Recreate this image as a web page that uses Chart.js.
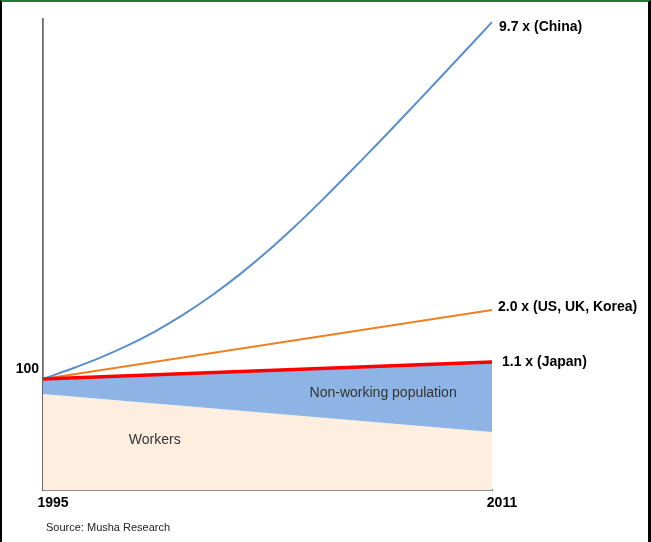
<!DOCTYPE html>
<html lang="en">
<head>
  <meta charset="UTF-8" />
  <title>Growth vs 1995</title>
  <style>
    body { margin: 0; background: #fff; font-family: "Liberation Sans", Arial, sans-serif; }
    #wrap {
      position: relative; width: 651px; height: 542px; box-sizing: border-box;
      border-top: 2px solid #1f7a3c; border-left: 2px solid #000; border-right: 3px solid #000;
    }
    #chart { display: block; }
    .source { position: absolute; left: 44px; top: 519px; font-size: 11px; color: #222; }
  </style>
</head>
<body>
  <div id="wrap">
    <canvas id="chart" width="646" height="540"></canvas>
    <div class="source">Source: Musha Research</div>
  </div>

  <script src="https://cdn.jsdelivr.net/npm/chart.js"></script>
  <script>
    // index, 1995 = 100 (schematic)
    const years = [1995, 1996, 1997, 1998, 1999, 2000, 2001, 2002, 2003, 2004, 2005, 2006, 2007, 2008, 2009, 2010, 2011];
    const china = [100, 109, 118.8, 130, 143, 158, 175, 194, 215, 238, 262.5, 288, 314, 340.5, 367.3, 394.3, 421.5];
    const endYears = [1995, 2011];
    const usUkKorea = [100, 162.2];
    const japan = [100, 115.3];
    const workers = [86.5, 52.3];
    const endLabels = ['9.7 x (China)', '2.0 x (US, UK, Korea)', '1.1 x (Japan)'];
    const areaLabels = ['Non-working population', 'Workers'];
    const yTicks = [100];
    const xTicks = [1995, 2011];

    const pts = (xs, ys) => xs.map((x, i) => ({ x, y: ys[i] }));

    // text at the end of each line and inside the two areas
    const labelPlugin = {
      id: 'labels',
      afterDatasetsDraw(chart) {
        const ctx = chart.ctx;
        const xs = chart.scales.x, ys = chart.scales.y;
        const shifts = [[7, 5], [6, -3], [10, 0]];
        ctx.save();
        ctx.textBaseline = 'middle';
        ctx.textAlign = 'left';
        ctx.fillStyle = '#000';
        ctx.font = 'bold 14px "Liberation Sans", Arial, sans-serif';
        [0, 1, 2].forEach((di, i) => {
          const d = chart.getDatasetMeta(di).data;
          const p = d[d.length - 1];
          ctx.fillText(endLabels[i], p.x + shifts[i][0], p.y + shifts[i][1]);
        });
        ctx.font = '14px "Liberation Sans", Arial, sans-serif';
        ctx.fillStyle = '#333';
        ctx.fillText(areaLabels[0], xs.getPixelForValue(2004.5), ys.getPixelForValue(87.4));
        ctx.fillText(areaLabels[1], xs.getPixelForValue(1998.06), ys.getPixelForValue(45));
        ctx.restore();
      }
    };

    new Chart(document.getElementById('chart'), {
      type: 'line',
      data: {
        datasets: [
          { data: pts(years, china), borderColor: '#5b8fc8', borderWidth: 2, tension: 0.35, pointRadius: 0, fill: false, order: 1 },
          { data: pts(endYears, usUkKorea), borderColor: '#f07f1f', borderWidth: 2, pointRadius: 0, fill: false, order: 2 },
          { data: pts(endYears, japan), borderColor: '#ff0000', borderWidth: 3.5, pointRadius: 0, fill: false, order: 0 },
          { data: pts(endYears, workers), borderWidth: 0, pointRadius: 0, backgroundColor: '#fdeee0', fill: 'origin', order: 5 },
          { data: pts(endYears, japan), borderWidth: 0, pointRadius: 0, backgroundColor: '#8db4e5', fill: '-1', order: 4 }
        ]
      },
      options: {
        responsive: false,
        animation: false,
        layout: { padding: { top: 17, right: 156, left: 0, bottom: 0 } },
        plugins: { legend: { display: false }, tooltip: { enabled: false } },
        scales: {
          x: {
            type: 'linear', min: 1995, max: 2011,
            grid: { display: false, drawTicks: false },
            border: { color: '#666', width: 1.7 },
            afterBuildTicks: s => { s.ticks = xTicks.map(v => ({ value: v })); },
            afterFit: s => { s.height = 52; },
            ticks: {
              padding: 5, labelOffset: 10, color: '#000',
              font: { family: '"Liberation Sans", Arial, sans-serif', size: 14, weight: 'bold' },
              callback: v => String(v)
            }
          },
          y: {
            min: 0, max: 424.3,
            grid: { display: false, drawTicks: false },
            border: { color: '#666', width: 1.7 },
            afterBuildTicks: s => { s.ticks = yTicks.map(v => ({ value: v })); },
            afterFit: s => { s.width = 41; },
            ticks: {
              padding: 4, labelOffset: -10, color: '#000',
              font: { family: '"Liberation Sans", Arial, sans-serif', size: 14, weight: 'bold' },
              callback: v => String(v)
            }
          }
        }
      },
      plugins: [labelPlugin]
    });
  </script>
</body>
</html>
